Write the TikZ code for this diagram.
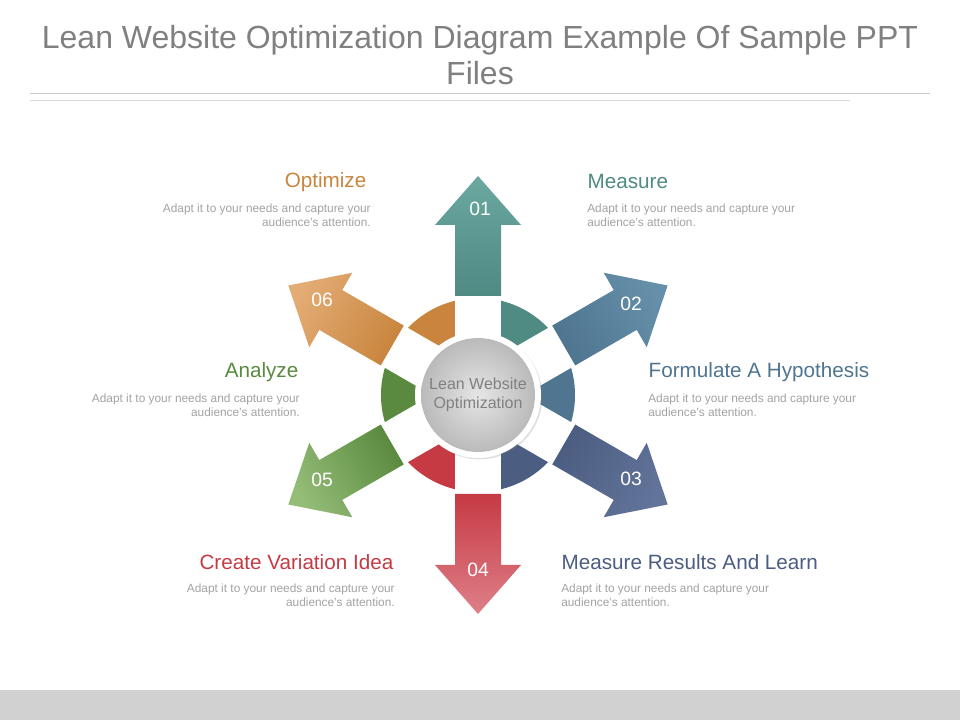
\documentclass[tikz,border=0pt]{standalone}
\usepackage{fontspec}
\setmainfont{Liberation Sans}
\usetikzlibrary{positioning, shadows}
\definecolor{tealA}{HTML}{6AA8A0}\definecolor{tealB}{HTML}{4F8A83}
\definecolor{blueA}{HTML}{6690AA}\definecolor{blueB}{HTML}{4F7590}
\definecolor{navyA}{HTML}{62749A}\definecolor{navyB}{HTML}{4B5D80}
\definecolor{redA}{HTML}{DE7F88}\definecolor{redB}{HTML}{C63A44}
\definecolor{greenA}{HTML}{95BD78}\definecolor{greenB}{HTML}{5A8A3F}
\definecolor{orangeA}{HTML}{E3AC75}\definecolor{orangeB}{HTML}{C9853E}
\definecolor{bodygray}{HTML}{A3A3A3}
\tikzset{
  head/.style={font=\fontsize{15.5}{18}\selectfont},
  body/.style={font=\fontsize{8.9}{10.6}\selectfont, text=bodygray, inner sep=0pt},
  num/.style={font=\fontsize{14.5}{16}\selectfont, text=white},
}
\begin{document}
\begin{tikzpicture}[x=0.75pt,y=0.75pt]
\useasboundingbox (0,0) rectangle (960,720);
\fill[white] (0,0) rectangle (960,720);
\fill[black!18] (0,0) rectangle (960,30);
\node[text=black!50, font=\fontsize{24}{27}\selectfont, align=center] (title) at (480,665) {Lean Website Optimization Diagram Example Of Sample PPT\\Files};
\draw[black!20] (30,627) -- (930,627);
\draw[black!15] (30,620) -- (850,620);
\coordinate (c) at (478,325);
% ring sectors
\foreach \ang/\col in {90/tealB, 30/blueB, -30/navyB, -90/redB, -150/greenB, 150/orangeB}
  \fill[\col] ([shift={(\ang:97)}]c) arc[start angle=\ang, end angle=\ang-60, radius=97]
    -- ([shift={(\ang-60:62)}]c) arc[start angle=\ang-60, end angle=\ang, radius=62] -- cycle;
% white bands and arrows
\foreach \ang/\ca/\cb in {90/tealA/tealB, 30/blueA/blueB, -30/navyA/navyB, -90/redA/redB, -150/greenA/greenB, 150/orangeA/orangeB}{
  \begin{scope}[shift={(c)}, rotate=\ang]
    \fill[white] (0,-23) rectangle (98,23);
  \end{scope}
  \shade[top color=\ca, bottom color=\cb, shading angle=\ang-90, shift={(c)}, rotate=\ang]
    (99,-23) -- (170,-23) -- (170,-43) -- (219,0) -- (170,43) -- (170,23) -- (99,23) -- cycle;
}
\node[num] (n1) at (480,511) {01};
\node[num] (n2) at (631,416) {02};
\node[num] (n3) at (631,241) {03};
\node[num] (n4) at (478,150) {04};
\node[num] (n5) at (322,240) {05};
\node[num] (n6) at (322,420) {06};
% centre
\fill[white, drop shadow={opacity=0.25, shadow xshift=1pt, shadow yshift=-1pt}] (c) circle[radius=63];
\shade[inner color=black!10, outer color=black!27] (c) circle[radius=57];
\node[text=black!50, font=\fontsize{12}{14.5}\selectfont, align=center] (hub) at (c) {Lean Website\\Optimization};
% labels
\node[head, text=orangeB, anchor=east] (opt) at (371,538) {Optimize};
\node[body, anchor=north east, align=right] (optt) at (371,516) {Adapt it to your needs and capture your\\audience's attention.};
\node[head, text=tealB, anchor=west] (mea) at (583,538) {Measure};
\node[body, anchor=north west, align=left] (meat) at (587,516) {Adapt it to your needs and capture your\\audience's attention.};
\node[head, text=greenB, anchor=east] (ana) at (303,348) {Analyze};
\node[body, anchor=north east, align=right] (anat) at (300,326) {Adapt it to your needs and capture your\\audience's attention.};
\node[head, text=blueB, anchor=west] (hyp) at (644,348) {Formulate A Hypothesis};
\node[body, anchor=north west, align=left] (hypt) at (648,326) {Adapt it to your needs and capture your\\audience's attention.};
\node[head, text=redB, anchor=east] (var) at (398,158) {Create Variation Idea};
\node[body, anchor=north east, align=right] (vart) at (395,136) {Adapt it to your needs and capture your\\audience's attention.};
\node[head, text=navyB, anchor=west] (res) at (557,158) {Measure Results And Learn};
\node[body, anchor=north west, align=left] (rest) at (561,136) {Adapt it to your needs and capture your\\audience's attention.};
\end{tikzpicture}
\end{document}
